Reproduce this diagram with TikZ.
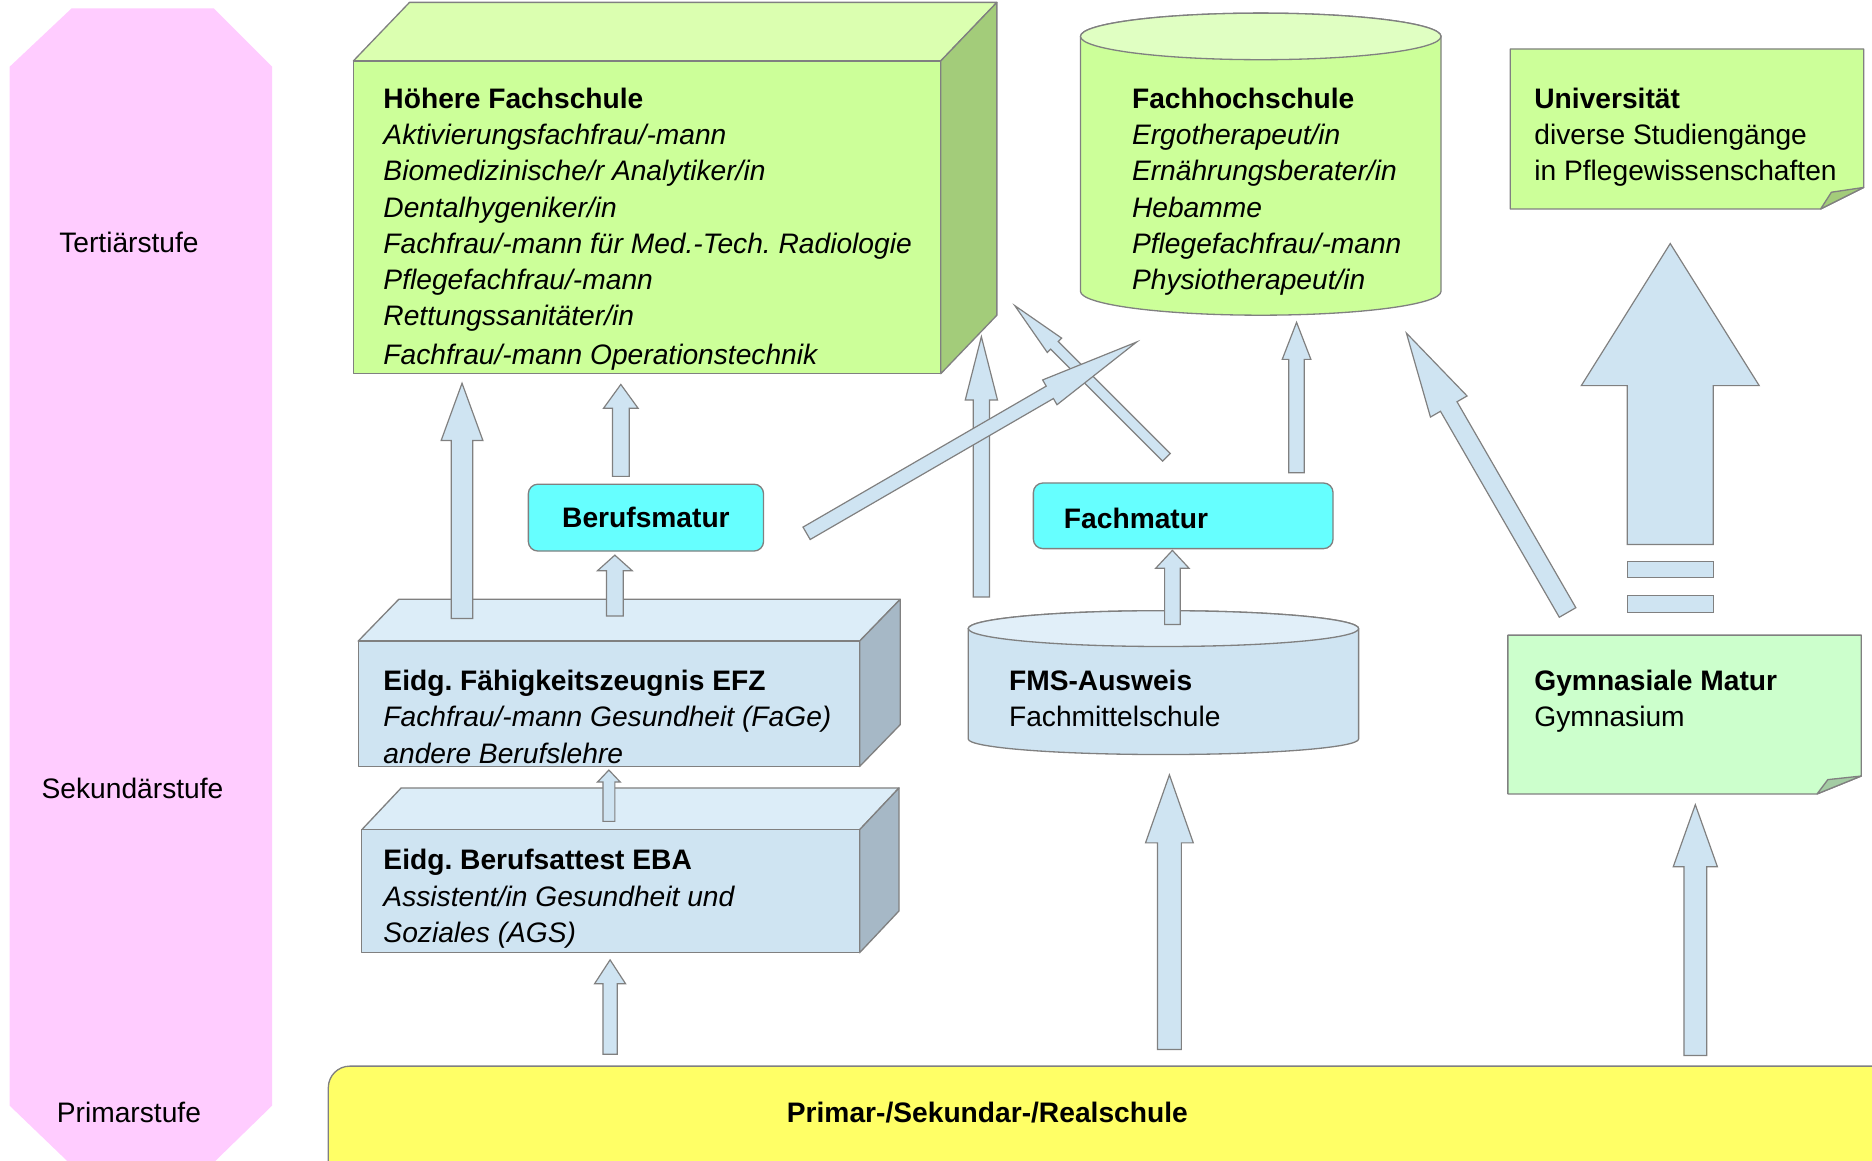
\documentclass[tikz,border=0pt]{standalone}
\usepackage{fontspec}
\setmainfont{Liberation Sans}
\usetikzlibrary{calc}
\definecolor{pinkc}{HTML}{FFCCFF}
\definecolor{gfront}{HTML}{CCFF99}
\definecolor{gtop}{HTML}{DBFFB0}
\definecolor{gside}{HTML}{A3CC7A}
\definecolor{gcyltop}{HTML}{E0FFC2}
\definecolor{mint}{HTML}{CCFFCC}
\definecolor{mintfold}{HTML}{A3CCA3}
\definecolor{bfront}{HTML}{CFE4F2}
\definecolor{btop}{HTML}{DCEDF8}
\definecolor{bside}{HTML}{A6B8C6}
\definecolor{bcyltop}{HTML}{E1EFF9}
\definecolor{cyanc}{HTML}{66FFFF}
\definecolor{yellowc}{HTML}{FFFF66}
\definecolor{bord}{HTML}{808080}
\newcommand{\blkarrow}[6]{%
  \coordinate (#6-b) at ($(#2)!#5!(#1)$);
  \draw[arr] ($(#1)!#3!90:(#2)$) -- ($(#6-b)!#3!90:(#2)$) -- ($(#6-b)!#4!90:(#2)$) -- (#2) -- ($(#6-b)!#4!-90:(#2)$) -- ($(#6-b)!#3!-90:(#2)$) -- ($(#1)!#3!-90:(#2)$) -- cycle;
}
\frenchspacing
\begin{document}
\begin{tikzpicture}[x=1pt,y=-1pt,
  txt/.style={font=\fontsize{23.6}{30.3}\selectfont, inner sep=0pt, align=left, anchor=north west},
  lvl/.style={font=\fontsize{23.6}{30.3}\selectfont, inner sep=0pt},
  lvlb/.style={font=\fontsize{23.6}{30.3}\selectfont\bfseries, inner sep=0pt},
  face/.style={draw=bord, line width=1.1pt, line join=round},
  arr/.style={fill=bfront, draw=bord, line width=1pt, line join=miter},
]
\useasboundingbox (0,0) rectangle (1568,972);
\clip (0,0) rectangle (1568,972);
\fill[white] (0,0) rectangle (1568,972);

% level pillar
\fill[pinkc] (8,56) -- (60,7) -- (179,7) -- (228,56) -- (228,926) -- (152,1000) -- (85,1000) -- (8,926) -- cycle;
\node[lvl] (t1) at (108,203) {Tertiärstufe};
\node[lvl] (t2) at (111,660) {Sekundärstufe};
\node[lvl] (t3) at (108,932) {Primarstufe};

% Hoehere Fachschule box
\draw[face, fill=gtop] (296,51) -- (343,2) -- (835,2) -- (788,51) -- cycle;
\draw[face, fill=gside] (788,51) -- (835,2) -- (835,264) -- (788,313) -- cycle;
\draw[face, fill=gfront] (296,51) rectangle (788,313);
\node[txt] (hft) at (321,69.5) {\strut\textbf{Höhere Fachschule}\\\textit{Aktivierungsfachfrau/-mann}\\\textit{Biomedizinische/r Analytiker/in}\\\textit{Dentalhygeniker/in}\\\textit{Fachfrau/-mann für Med.-Tech.\ Radiologie}\\\textit{Pflegefachfrau/-mann}\\\textit{Rettungssanitäter/in}\\[2pt]\textit{Fachfrau/-mann Operationstechnik}};

% Fachhochschule cylinder
\draw[face, fill=gfront] (905,30.5) -- (905,244) arc[start angle=180,end angle=360,x radius=151pt,y radius=20pt] -- (1207,30.5) arc[start angle=0,end angle=180,x radius=151pt,y radius=19.5pt] -- cycle;
\draw[face, fill=gcyltop] (1056,30.5) ellipse[x radius=151pt, y radius=19.5pt];
\node[txt] (fht) at (948,69.5) {\strut\textbf{Fachhochschule}\\\textit{Ergotherapeut/in}\\\textit{Ernährungsberater/in}\\\textit{Hebamme}\\\textit{Pflegefachfrau/-mann}\\\textit{Physiotherapeut/in}};

% Universitaet note
\draw[face, fill=gfront] (1265,41) -- (1561,41) -- (1561,157) -- (1525,175) -- (1265,175) -- cycle;
\draw[face, fill=gside] (1561,157) -- (1534,161) -- (1525,175) -- cycle;
\node[txt] (unit) at (1285,69.5) {\strut\textbf{Universität}\\diverse Studiengänge\\in Pflegewissenschaften};

% EFZ box
\draw[face, fill=btop] (300,537) -- (334,502) -- (754,502) -- (720,537) -- cycle;
\draw[face, fill=bside] (720,537) -- (754,502) -- (754,607) -- (720,642) -- cycle;
\draw[face, fill=bfront] (300,537) rectangle (720,642);
\node[txt] (efzt) at (321,557.2) {\strut\textbf{Eidg.\ Fähigkeitszeugnis EFZ}\\\textit{Fachfrau/-mann Gesundheit (FaGe)}\\\textit{andere Berufslehre}};

% EBA box
\draw[face, fill=btop] (303,695) -- (336,660) -- (753,660) -- (720,695) -- cycle;
\draw[face, fill=bside] (720,695) -- (753,660) -- (753,763) -- (720,798) -- cycle;
\draw[face, fill=bfront] (303,695) rectangle (720,798);
\node[txt] (ebat) at (321,707.2) {\strut\textbf{Eidg.\ Berufsattest EBA}\\\textit{Assistent/in Gesundheit und}\\\textit{Soziales (AGS)}};

% FMS cylinder
\draw[face, fill=bfront] (811,526.5) -- (811,619) arc[start angle=180,end angle=360,x radius=163.5pt,y radius=13pt] -- (1138,526.5) arc[start angle=0,end angle=180,x radius=163.5pt,y radius=15pt] -- cycle;
\draw[face, fill=bcyltop] (974.5,526.5) ellipse[x radius=163.5pt,y radius=15pt];
\node[txt] (fmst) at (845,557.2) {\strut\textbf{FMS-Ausweis}\\Fachmittelschule};

% Gymnasiale Matur note
\draw[face, fill=mint] (1263,532) -- (1559,532) -- (1559,650) -- (1522,665) -- (1263,665) -- cycle;
\draw[face, fill=mintfold] (1559,650) -- (1531,653) -- (1522,665) -- cycle;
\node[txt] (gymt) at (1285,557.2) {\strut\textbf{Gymnasiale Matur}\\Gymnasium};

% Berufsmatur / Fachmatur
\node[draw=bord, line width=1.1pt, fill=cyanc, rounded corners=8pt, minimum width=197pt, minimum height=56pt, inner sep=0pt, anchor=north west, font=\fontsize{23.6}{30.3}\selectfont\bfseries] (bm) at (442,405) {Berufsmatur};
\node[draw=bord, line width=1.1pt, fill=cyanc, rounded corners=8pt, minimum width=251pt, minimum height=55pt, inner sep=0pt, anchor=north west] (fm) at (865,404) {};
\node[lvlb, anchor=west] (fmt) at (891,434) {Fachmatur};

% Primar
\draw[line width=1.1pt, draw=bord, fill=yellowc, rounded corners=18pt] (275,893) rectangle (1620,1020);
\node[lvlb] (pst) at (827,932) {Primar-/Sekundar-/Realschule};

% arrows
\coordinate (efzA) at (387,518); \coordinate (hfA) at (387,321);
\blkarrow{efzA}{hfA}{9pt}{17.5pt}{48pt}{a1}
\coordinate (bmA) at (520,399); \coordinate (hfB) at (520,322);
\blkarrow{bmA}{hfB}{7pt}{14.5pt}{20pt}{a2}
\coordinate (efzB) at (515,516); \coordinate (bmB) at (515,465);
\blkarrow{efzB}{bmB}{7pt}{14.5pt}{13pt}{a3}
\coordinate (ebaA) at (510,688); \coordinate (efzC) at (510,645);
\blkarrow{ebaA}{efzC}{5pt}{9.5pt}{10pt}{a4}
\coordinate (psA) at (511,883); \coordinate (ebaB) at (511,804);
\blkarrow{psA}{ebaB}{6pt}{13pt}{20pt}{a5}
\coordinate (psB) at (979.5,879); \coordinate (fmsA) at (979.5,649);
\blkarrow{psB}{fmsA}{10pt}{20pt}{57pt}{a6}
\coordinate (psC) at (1420,884); \coordinate (gymA) at (1420,674);
\blkarrow{psC}{gymA}{9.5pt}{18.5pt}{52pt}{a7}
\coordinate (fmsB) at (982,523); \coordinate (fmA) at (982,461);
\blkarrow{fmsB}{fmA}{6.5pt}{14pt}{15pt}{a8}
\coordinate (fmB) at (1086,396); \coordinate (fhA) at (1086,270);
\blkarrow{fmB}{fhA}{6.5pt}{12pt}{31pt}{a9}
\coordinate (fmsC) at (822,500); \coordinate (hfC) at (822,282);
\blkarrow{fmsC}{hfC}{6.75pt}{13.5pt}{53pt}{a10}
\coordinate (fmC) at (977,383); \coordinate (hfD) at (850,256);
\blkarrow{fmC}{hfD}{4.5pt}{8.5pt}{47pt}{a11}
\coordinate (bmC) at (675.6,446.7); \coordinate (fhB) at (952,286.5);
\blkarrow{bmC}{fhB}{6pt}{12pt}{84pt}{a12}
\coordinate (gymB) at (1313,513); \coordinate (fhC) at (1178,279);
\blkarrow{gymB}{fhC}{8pt}{17.7pt}{71pt}{a13}
\coordinate (gymC) at (1399,456); \coordinate (uniA) at (1399,204);
\blkarrow{gymC}{uniA}{36pt}{74.5pt}{119pt}{a14}
\draw[arr] (1363,470) rectangle (1435,484);
\draw[arr] (1363,499) rectangle (1435,513);
\end{tikzpicture}
\end{document}
